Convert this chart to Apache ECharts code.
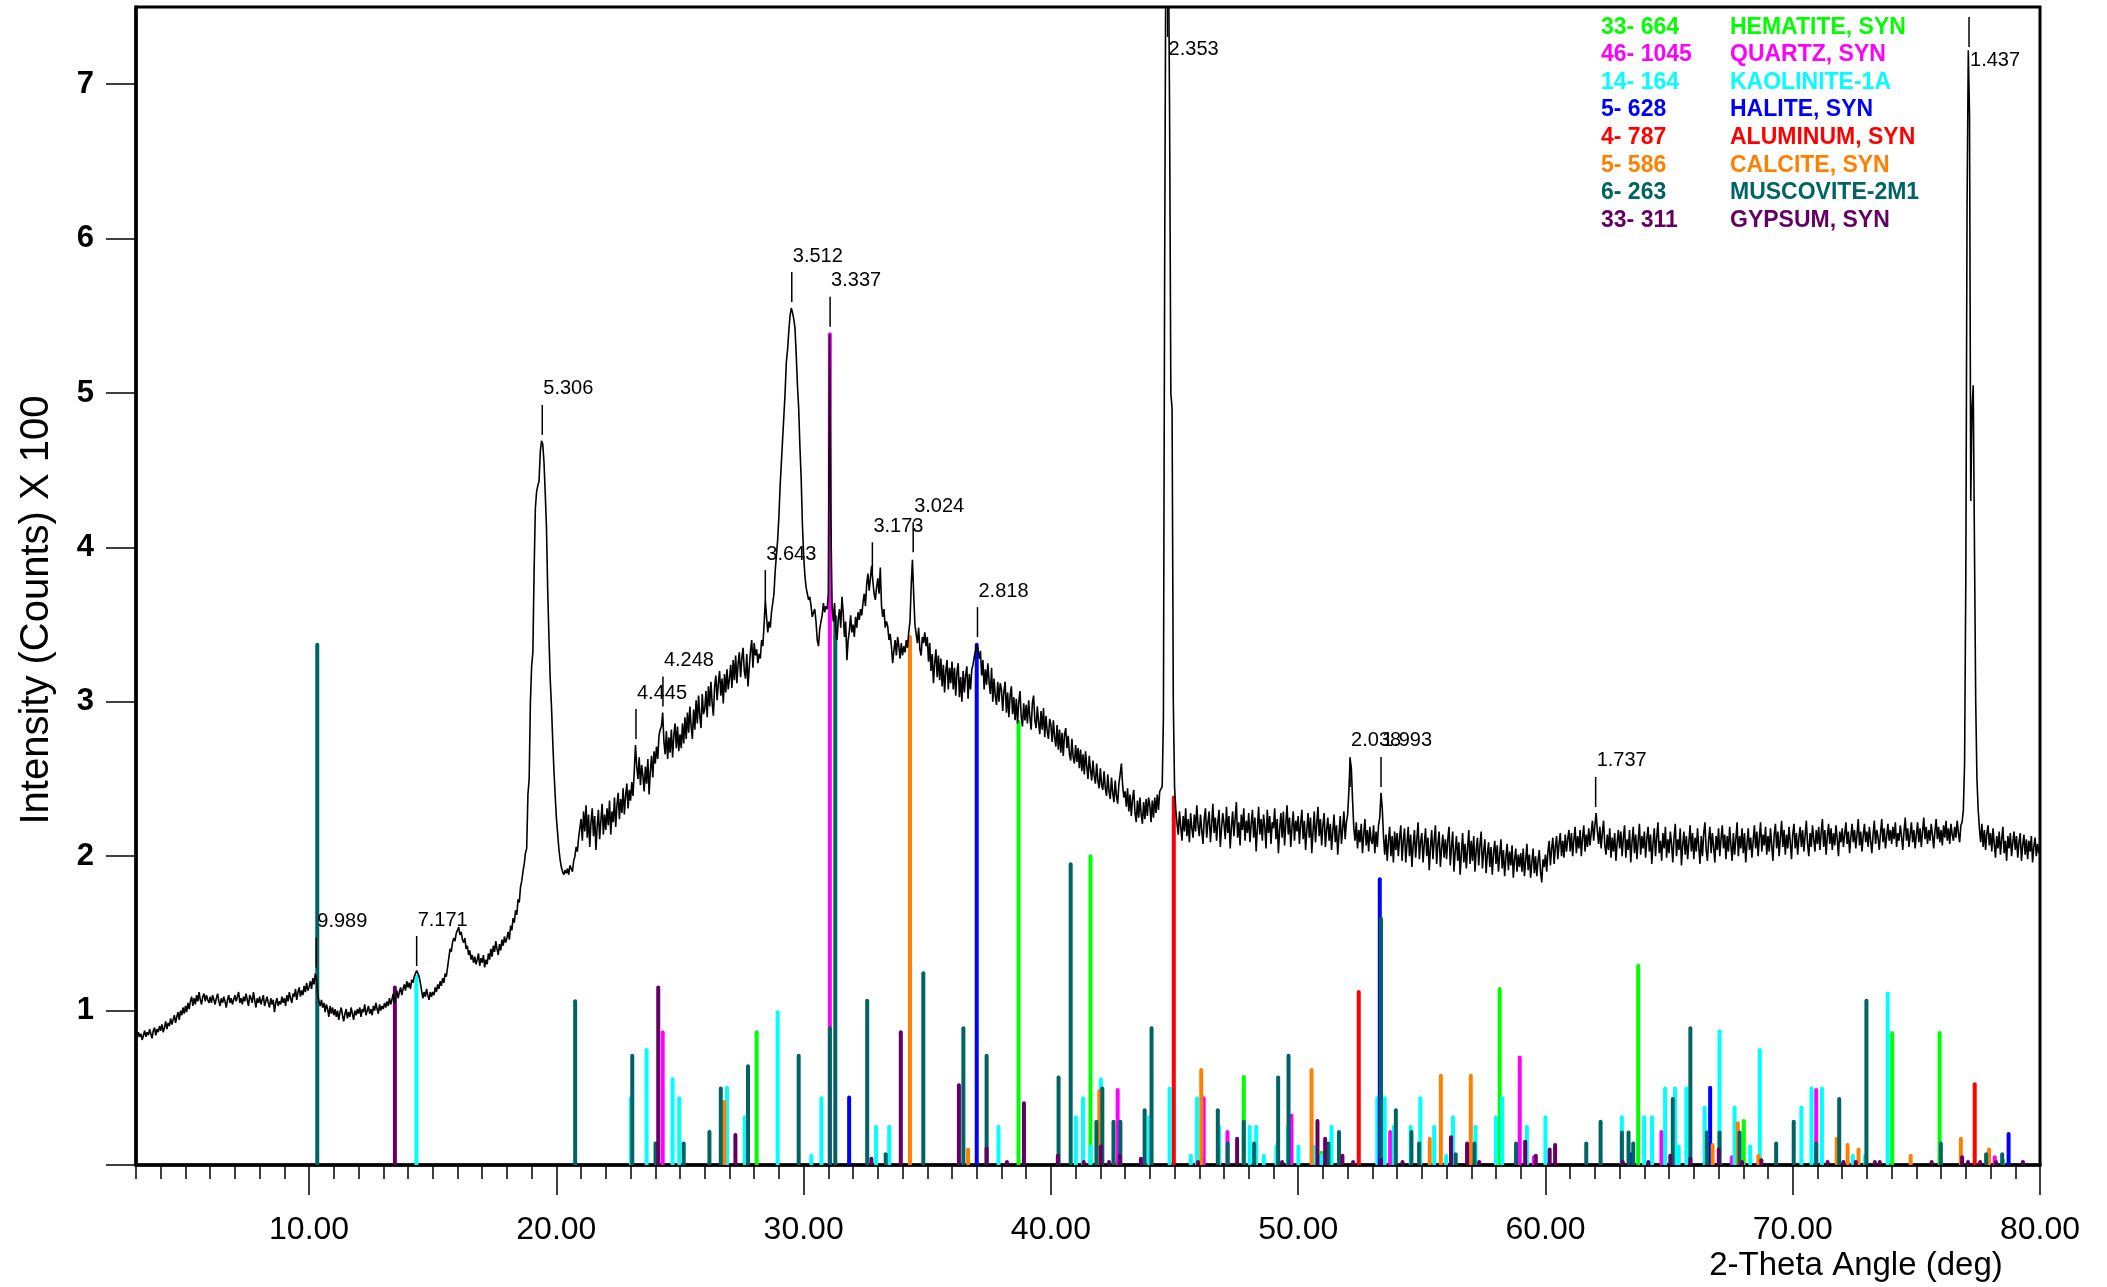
<!DOCTYPE html>
<html><head><meta charset="utf-8">
<script src="https://cdn.jsdelivr.net/npm/echarts@6/dist/echarts.min.js"></script>
<style>html,body{margin:0;padding:0;background:#fff;}#c{width:2107px;height:1287px;}</style>
</head><body><div id="c"></div>
<script>
// ---------------- DATA ----------------
const xMin = 3, xMax = 80, yMax = 7.5;
const xTickLabels = [10, 20, 30, 40, 50, 60, 70, 80];
const xMinorTicks = [3,4,5,6,7,8,9,10,11,12,13,14,15,16,17,18,19,20,21,22,23,24,25,26,27,28,29,30,31,32,33,34,35,36,37,38,39,40,41,42,43,44,45,46,47,48,49,50,51,52,53,54,55,56,57,58,59,60,61,62,63,64,65,66,67,68,69,70,71,72,73,74,75,76,77,78,79,80];
const yTickValues = [0, 1, 2, 3, 4, 5, 6, 7];
const yTickLabels = [1, 2, 3, 4, 5, 6, 7];

// measured pattern, intensity (counts x100), one row per degree starting at 3.00, step 0.05 deg
const scanStartDeg = 3, scanStep = 0.05;
const countsByDegree = [
[0.84,0.82,0.86,0.83,0.85,0.81,0.84,0.87,0.83,0.86,0.84,0.88,0.85,0.82,0.87,0.89,0.84,0.88,0.86,0.90],
[0.87,0.91,0.86,0.89,0.93,0.88,0.92,0.90,0.95,0.91,0.94,0.97,0.92,0.96,0.99,0.94,1.00,0.97,1.02,0.98],
[1.03,0.99,1.05,1.01,1.06,1.09,1.03,1.08,1.04,1.10,1.06,1.12,1.07,1.04,1.09,1.11,1.06,1.10,1.07,1.05],
[1.09,1.05,1.10,1.07,1.04,1.08,1.11,1.06,1.03,1.08,1.05,1.09,1.06,1.02,1.07,1.10,1.05,1.08,1.04,1.07],
[1.10,1.06,1.09,1.12,1.05,1.08,1.04,1.09,1.06,1.11,1.07,1.03,1.10,1.08,1.05,1.12,1.07,1.02,1.08,1.05],
[1.09,1.04,1.07,1.10,1.03,1.06,1.09,1.05,1.02,1.08,1.04,1.07,0.99,1.05,1.08,1.03,1.06,1.04,1.09,1.05],
[1.08,1.03,1.10,1.06,1.12,1.08,1.05,1.11,1.09,1.14,1.07,1.12,1.15,1.09,1.13,1.10,1.16,1.12,1.18,1.13],
[1.15,1.19,1.14,1.21,1.17,1.24,1.20,1.10,1.06,1.03,1.07,1.02,1.05,0.99,1.04,1.01,0.96,1.03,0.98,1.02],
[0.97,1.01,0.96,1.00,0.94,0.99,1.02,0.97,0.93,0.98,1.01,0.95,0.99,0.96,1.02,0.98,0.94,1.00,0.97,1.01],
[0.98,1.02,0.96,1.01,0.99,1.04,0.97,1.00,1.03,0.98,1.01,0.97,1.03,1.00,1.05,1.01,0.98,1.04,1.00,1.03],
[1.01,1.05,1.02,1.06,1.03,1.08,1.04,1.07,1.11,1.05,1.09,1.13,1.08,1.12,1.15,1.10,1.14,1.17,1.13,1.19],
[1.15,1.18,1.14,1.20,1.18,1.22,1.21,1.26,1.25,1.22,1.18,1.13,1.08,1.12,1.09,1.14,1.10,1.07,1.12,1.09],
[1.12,1.10,1.15,1.12,1.17,1.14,1.19,1.16,1.21,1.18,1.24,1.22,1.28,1.34,1.40,1.38,1.44,1.47,1.45,1.50],
[1.52,1.54,1.49,1.51,1.46,1.44,1.47,1.40,1.42,1.36,1.39,1.33,1.36,1.31,1.35,1.30,1.33,1.37,1.29,1.34],
[1.31,1.36,1.28,1.33,1.30,1.37,1.33,1.40,1.35,1.42,1.38,1.45,1.40,1.36,1.43,1.39,1.46,1.42,1.48,1.44],
[1.47,1.51,1.46,1.55,1.52,1.60,1.57,1.65,1.62,1.72,1.70,1.80,1.84,1.90,1.95,2.02,2.05,2.40,2.50,3.00],
[3.23,3.32,3.85,4.25,4.36,4.40,4.43,4.62,4.69,4.67,4.55,4.35,4.13,3.72,3.42,3.15,2.98,2.76,2.56,2.40],
[2.25,2.15,2.05,1.98,1.93,1.90,1.88,1.91,1.89,1.92,1.88,1.94,1.94,1.90,1.97,2.00,2.06,2.03,2.12,2.18],
[2.24,2.10,2.29,2.16,2.33,2.12,2.27,2.06,2.22,2.31,2.13,2.26,2.04,2.19,2.30,2.11,2.23,2.34,2.14,2.27],
[2.17,2.31,2.20,2.36,2.14,2.29,2.22,2.38,2.19,2.33,2.41,2.24,2.37,2.28,2.44,2.27,2.39,2.47,2.31,2.43],
[2.36,2.48,2.39,2.55,2.72,2.58,2.50,2.64,2.46,2.59,2.52,2.42,2.58,2.47,2.63,2.40,2.55,2.65,2.51,2.68],
[2.60,2.71,2.63,2.78,2.82,2.84,2.93,2.74,2.66,2.81,2.63,2.77,2.67,2.82,2.64,2.78,2.86,2.70,2.84,2.68],
[2.79,2.70,2.86,2.73,2.90,2.76,2.93,2.80,2.97,2.84,2.76,2.95,2.82,3.01,2.86,3.04,2.91,2.83,3.05,2.92],
[2.95,3.07,2.90,3.10,2.97,3.13,2.99,2.91,3.10,3.17,3.01,3.12,3.20,3.04,3.15,2.99,3.18,3.06,3.21,3.08],
[3.15,3.24,3.09,3.27,3.14,3.30,3.12,3.25,3.32,3.16,3.28,3.35,3.20,3.15,3.31,3.10,3.22,3.33,3.40,3.22],
[3.38,3.30,3.34,3.25,3.31,3.28,3.40,3.36,3.50,3.66,3.55,3.45,3.52,3.48,3.58,3.64,3.70,3.85,3.95,4.05],
[4.20,4.40,4.55,4.70,4.85,5.00,5.20,5.28,5.40,5.50,5.55,5.52,5.48,5.42,5.25,5.05,4.90,4.65,4.45,4.15],
[3.95,3.82,3.74,3.70,3.66,3.68,3.62,3.55,3.58,3.60,3.52,3.40,3.36,3.47,3.52,3.56,3.64,3.58,3.62,3.60],
[3.70,5.38,4.20,3.62,3.52,3.64,3.46,3.40,3.53,3.60,3.48,3.68,3.58,3.42,3.52,3.27,3.40,3.46,3.56,3.45],
[3.50,3.42,3.55,3.48,3.58,3.53,3.60,3.56,3.64,3.70,3.62,3.76,3.83,3.72,3.80,3.88,3.78,3.70,3.66,3.74],
[3.80,3.70,3.87,3.62,3.55,3.60,3.48,3.52,3.49,3.40,3.44,3.36,3.25,3.33,3.40,3.30,3.42,3.36,3.28,3.38],
[3.30,3.36,3.32,3.40,3.35,3.45,3.52,3.75,3.92,3.70,3.50,3.44,3.38,3.48,3.34,3.30,3.42,3.38,3.45,3.36],
[3.42,3.26,3.38,3.20,3.31,3.12,3.25,3.34,3.16,3.30,3.14,3.28,3.10,3.24,3.06,3.20,3.27,3.08,3.22,3.12],
[3.26,3.08,3.22,3.04,3.19,3.25,3.03,3.16,3.00,3.20,3.06,3.17,3.23,3.02,3.18,3.08,3.21,3.24,3.29,3.33],
[3.37,3.34,3.28,3.33,3.17,3.27,3.08,3.21,3.11,3.25,3.13,3.05,3.22,3.00,3.15,3.04,2.98,3.13,3.00,3.12],
[3.08,2.94,3.07,3.13,2.93,3.06,2.90,3.04,3.10,2.92,3.03,2.88,3.02,2.86,3.00,3.07,2.90,2.84,2.99,2.88],
[2.98,2.86,3.01,2.90,2.82,2.99,3.04,2.88,2.83,2.97,2.87,2.79,2.94,2.82,2.96,2.77,2.91,2.81,2.76,2.89],
[2.85,2.74,2.88,2.77,2.71,2.85,2.69,2.82,2.67,2.80,2.65,2.79,2.83,2.70,2.78,2.66,2.62,2.76,2.64,2.60],
[2.72,2.61,2.70,2.57,2.69,2.55,2.66,2.53,2.68,2.58,2.50,2.65,2.56,2.49,2.62,2.52,2.47,2.60,2.49,2.44],
[2.57,2.46,2.43,2.55,2.44,2.39,2.53,2.42,2.37,2.51,2.41,2.35,2.49,2.39,2.34,2.47,2.53,2.60,2.46,2.38],
[2.42,2.32,2.44,2.29,2.40,2.26,2.37,2.43,2.28,2.22,2.36,2.25,2.38,2.27,2.21,2.35,2.24,2.37,2.26,2.38],
[2.33,2.22,2.36,2.25,2.38,2.28,2.40,2.30,2.42,2.42,2.45,2.90,5.80,8.00,8.00,8.00,6.80,5.00,4.90,3.00],
[2.45,2.30,2.21,2.14,2.29,2.19,2.10,2.26,2.16,2.31,2.13,2.24,2.09,2.28,2.18,2.12,2.27,2.16,2.33,2.20],
[2.13,2.27,2.17,2.08,2.24,2.31,2.12,2.22,2.29,2.09,2.20,2.34,2.15,2.25,2.10,2.22,2.30,2.06,2.18,2.28],
[2.21,2.11,2.32,2.15,2.26,2.05,2.19,2.29,2.13,2.24,2.35,2.12,2.22,2.07,2.27,2.17,2.31,2.10,2.23,2.15],
[2.28,2.09,2.21,2.30,2.12,2.25,2.03,2.18,2.32,2.14,2.24,2.10,2.27,2.19,2.05,2.30,2.15,2.26,2.08,2.22],
[2.18,2.31,2.11,2.24,2.02,2.17,2.28,2.12,2.29,2.07,2.21,2.33,2.14,2.25,2.06,2.19,2.29,2.10,2.23,2.16],
[2.26,2.08,2.21,2.30,2.11,2.23,2.04,2.17,2.28,2.12,2.25,2.02,2.16,2.29,2.09,2.21,2.32,2.13,2.24,2.07],
[2.20,2.28,2.06,2.17,2.25,2.10,2.21,2.04,2.16,2.27,2.09,2.20,2.01,2.14,2.26,2.08,2.18,2.29,2.11,2.22],
[2.27,2.42,2.63,2.57,2.36,2.18,2.10,2.22,2.05,2.17,2.09,2.21,2.02,2.14,2.24,2.07,2.17,2.03,2.19,2.10],
[2.08,2.20,2.02,2.16,2.06,2.20,2.25,2.41,2.31,2.13,2.01,2.14,1.97,2.10,2.19,2.00,2.13,1.96,2.16,2.04],
[2.15,2.00,2.12,2.20,1.97,2.10,2.18,1.96,2.08,2.19,2.00,2.14,1.93,2.07,2.17,1.99,2.11,2.22,1.98,2.09],
[2.15,1.96,2.08,2.18,2.00,2.12,1.91,2.06,2.17,1.98,2.10,2.20,1.95,2.08,2.16,1.93,2.05,2.14,1.99,2.11],
[1.98,2.11,2.19,1.94,2.06,2.16,1.90,2.03,2.13,1.97,2.09,1.88,2.02,2.15,1.96,2.08,1.92,2.05,2.17,1.95],
[2.10,1.97,2.13,1.90,2.04,2.12,1.94,2.07,2.16,1.92,2.03,2.11,1.89,2.01,2.09,1.93,2.06,1.88,2.02,2.10],
[1.95,2.07,1.90,2.01,2.11,1.92,2.04,1.87,1.99,2.08,1.91,2.03,1.94,2.07,1.86,1.98,2.05,1.90,2.01,1.93],
[2.02,1.90,2.05,1.87,1.97,2.08,1.91,2.01,1.86,1.96,2.05,1.89,2.00,1.87,1.97,2.04,1.90,1.83,1.98,1.93],
[2.01,1.90,2.03,2.10,1.94,2.05,2.12,1.95,2.06,2.13,1.98,2.08,2.15,2.00,2.10,1.99,2.14,2.03,2.11,2.17],
[2.03,2.15,2.00,2.11,2.19,2.02,2.13,2.05,2.17,2.00,2.12,2.20,2.03,2.14,2.06,2.18,2.07,2.15,2.23,2.10],
[2.20,2.28,2.16,2.08,2.19,2.05,2.15,2.23,2.07,2.01,2.14,2.04,2.18,1.99,2.12,2.03,2.15,1.97,2.09,2.17],
[2.05,2.16,2.00,2.12,2.20,1.99,2.11,2.04,2.17,1.96,2.09,2.19,2.02,2.14,1.98,2.10,2.21,2.01,2.13,2.05],
[2.16,1.99,2.11,2.19,2.03,2.14,1.95,2.08,2.18,2.00,2.12,2.22,2.02,2.10,1.97,2.15,2.05,2.19,1.99,2.11],
[2.02,2.16,2.08,1.96,2.12,2.21,2.00,2.11,2.04,2.18,1.94,2.07,2.16,2.01,2.13,1.98,2.09,2.20,2.03,2.15],
[1.98,2.12,2.03,2.18,2.06,1.95,2.13,2.00,2.15,2.22,2.04,1.97,2.11,2.19,2.02,2.15,2.06,1.96,2.13,2.04],
[2.18,2.00,2.11,2.20,2.05,2.14,1.98,2.13,2.03,2.19,2.07,1.97,2.15,2.01,2.11,2.22,2.00,2.13,2.05,2.18],
[2.02,2.15,1.96,2.08,2.18,2.04,2.12,1.99,2.10,2.20,2.05,2.16,2.00,2.12,2.22,2.03,2.14,2.07,2.19,2.01],
[2.13,2.03,2.18,2.07,1.97,2.14,2.21,2.05,2.16,2.00,2.12,2.23,2.06,2.17,2.01,2.14,2.05,2.19,2.09,1.98],
[2.14,2.21,2.05,2.15,2.01,2.12,2.19,2.06,2.17,2.03,2.13,2.23,2.08,2.00,2.15,2.06,2.20,2.11,2.03,2.17],
[2.08,2.19,2.04,2.15,2.24,2.06,2.17,2.01,2.13,2.21,2.08,2.18,2.04,2.15,2.07,2.20,2.11,2.00,2.16,2.09],
[2.18,2.06,2.14,2.22,2.08,2.16,2.02,2.12,2.21,2.09,2.17,2.05,2.14,2.24,2.07,2.16,2.03,2.13,2.21,2.09],
[2.16,2.06,2.19,2.10,2.02,2.14,2.23,2.08,2.17,2.12,2.04,2.15,2.24,2.09,2.18,2.05,2.13,2.21,2.10,2.17],
[2.08,2.19,2.11,2.22,2.06,2.15,2.10,2.20,2.13,2.04,2.16,2.25,2.10,2.18,2.06,2.14,2.22,2.09,2.17,2.05],
[2.14,2.22,2.09,2.18,2.06,2.16,2.25,2.11,2.19,2.08,2.17,2.10,2.21,2.14,2.05,2.16,2.24,2.11,2.19,2.09],
[2.17,2.07,2.20,2.12,2.23,2.10,2.18,2.08,2.21,2.14,2.10,2.19,2.12,2.23,2.15,2.09,2.20,2.22,2.30,2.60],
[3.80,6.20,7.22,6.80,4.30,4.90,5.05,4.00,3.00,2.50,2.30,2.18,2.09,2.21,2.06,2.17,2.04,2.15,2.20,2.07],
[2.15,2.03,2.18,2.08,1.99,2.13,2.05,2.16,2.01,2.11,2.19,2.02,2.10,1.97,2.13,2.05,2.15,2.00,2.09,2.16],
[2.04,2.13,1.99,2.09,2.15,1.97,2.07,2.14,2.01,2.11,1.98,2.10,2.03,2.13,1.96,2.06,2.12,2.00,2.08,2.02]
];
const countAtEnd = 2.06; // value at 80.00

// reference patterns (2-theta, relative height in same units)
const phaseCodes  = ['33- 664','46- 1045','14- 164','5- 628','4- 787','5- 586','6- 263','33- 311'];
const phaseNames  = ['HEMATITE, SYN','QUARTZ, SYN','KAOLINITE-1A','HALITE, SYN','ALUMINUM, SYN','CALCITE, SYN','MUSCOVITE-2M1','GYPSUM, SYN'];
const hematiteSticks = [[28.10,0.86],[38.69,2.87],[41.60,2.00],[47.80,0.57],[50.95,0.08],[58.15,1.14],[63.75,1.29],[68.02,0.285],[74.02,0.855],[75.94,0.855],[78.50,0.03]];
const quartzSticks = [[24.30,0.86],[31.06,5.38],[42.70,0.485],[46.18,0.433],[47.14,0.214],[49.73,0.32],[53.72,0.214],[58.96,0.697],[59.53,0.05],[64.69,0.214],[67.54,0.05],[70.95,0.485],[78.17,0.05]];
const kaoliniteSticks = [[14.34,1.22],[23.02,0.433],[23.65,0.745],[24.70,0.556],[24.97,0.433],[26.90,0.50],[27.62,0.31],[28.95,0.99],[30.31,0.06],[30.72,0.433],[32.93,0.247],[33.46,0.247],[37.88,0.247],[41.01,0.31],[41.30,0.433],[41.60,0.12],[42.02,0.556],[43.97,0.31],[44.80,0.495],[45.66,0.06],[45.91,0.433],[46.80,0.247],[48.04,0.247],[48.30,0.247],[48.61,0.06],[49.12,0.12],[49.58,0.247],[50.01,0.12],[50.63,0.12],[50.93,0.06],[51.35,0.247],[53.20,0.433],[53.50,0.433],[53.87,0.247],[54.55,0.247],[54.94,0.433],[55.50,0.247],[55.98,0.06],[56.26,0.31],[57.17,0.247],[58.00,0.31],[58.25,0.433],[59.25,0.247],[60.00,0.31],[63.09,0.31],[63.99,0.31],[64.31,0.31],[64.84,0.495],[65.24,0.495],[65.39,0.12],[65.70,0.495],[66.44,0.372],[67.04,0.866],[67.65,0.372],[68.28,0.12],[68.67,0.745],[70.35,0.372],[70.76,0.495],[71.18,0.495],[72.43,0.06],[72.93,0.06],[73.84,1.11]];
const haliteSticks = [[31.84,0.437],[37.00,3.37],[53.30,1.85],[63.45,0.07],[66.66,0.50],[78.73,0.20]];
const aluminumSticks = [[44.97,2.38],[52.45,1.12],[77.36,0.523]];
const calciteSticks = [[26.79,0.41],[34.30,3.42],[36.65,0.10],[41.96,0.48],[46.08,0.615],[50.54,0.615],[55.32,0.17],[55.77,0.578],[56.98,0.578],[66.76,0.13],[67.78,0.27],[68.61,0.06],[71.78,0.17],[72.22,0.13],[72.66,0.10],[74.77,0.06],[76.80,0.17],[77.94,0.10]];
const muscoviteSticks = [[10.33,3.37],[20.76,1.06],[23.07,0.708],[24.01,0.14],[25.15,0.14],[26.19,0.214],[26.65,0.495],[27.75,0.64],[29.80,0.708],[31.06,0.885],[31.28,3.55],[32.57,1.063],[33.32,0.07],[34.84,1.242],[36.46,0.885],[37.40,0.708],[40.31,0.567],[40.80,1.948],[41.84,0.28],[42.08,0.495],[42.53,0.28],[42.81,0.28],[43.79,0.355],[44.07,0.885],[46.75,0.355],[47.15,0.14],[47.80,0.28],[48.22,0.14],[49.19,0.567],[49.61,0.708],[51.22,0.14],[51.65,0.214],[53.35,1.595],[53.95,0.355],[54.58,0.214],[54.89,0.14],[56.37,0.07],[57.13,0.14],[58.81,0.14],[61.65,0.14],[62.23,0.28],[63.09,0.21],[63.36,0.21],[63.55,0.14],[65.15,0.427],[65.86,0.885],[66.53,0.21],[67.04,0.21],[67.85,0.21],[69.33,0.14],[70.04,0.28],[70.95,0.14],[71.88,0.427],[72.98,1.063],[75.99,0.14],[77.82,0.07],[78.47,0.07]];
const gypsumSticks = [[13.47,1.15],[24.12,1.15],[27.24,0.195],[32.74,0.04],[33.93,0.86],[36.28,0.517],[37.40,0.107],[38.22,0.02],[38.91,0.40],[40.28,0.06],[41.33,0.02],[42.02,0.12],[42.35,0.02],[42.78,0.06],[43.64,0.04],[45.95,0.02],[47.53,0.17],[49.35,0.02],[50.78,0.285],[51.09,0.17],[51.79,0.06],[52.22,0.02],[53.35,0.03],[54.22,0.02],[56.18,0.18],[56.83,0.14],[57.32,0.02],[59.18,0.15],[59.61,0.06],[60.17,0.10],[60.39,0.13],[63.13,0.02],[64.16,0.02],[65.05,0.06],[65.86,0.04],[67.01,0.10],[67.95,0.02],[68.73,0.03],[71.41,0.02],[72.05,0.02],[72.55,0.02],[73.32,0.02],[73.52,0.02],[75.62,0.02],[76.85,0.05],[77.09,0.02],[77.58,0.02],[78.22,0.02],[79.31,0.02]];

// peak d-spacing labels (2-theta of marked peak, intensity level of the marker)
const dLabels = ['9.989','7.171','5.306','4.445','4.248','3.643','3.512','3.337','3.173','3.024','2.818','2.353','2.038','1.993','1.737','1.437'];
const dTwoTheta = [10.29,14.35,19.43,23.22,24.31,28.45,29.52,31.07,32.78,34.43,37.03,44.72,52.10,53.35,62.03,77.13];
const dPeakHeight = [1.24,1.25,4.69,2.72,2.93,3.62,5.55,5.39,3.80,3.93,3.38,8.00,2.41,2.41,2.28,7.22];

// ---------------- STYLE ----------------
const FONT = '"Liberation Sans", Arial, Helvetica, sans-serif';
const phaseColors = ['#00ff00','#ff00ff','#00ffff','#0000ff','#ff0000','#ff8000','#006464','#640064'];
const phaseSticks = [hematiteSticks, quartzSticks, kaoliniteSticks, haliteSticks, aluminumSticks, calciteSticks, muscoviteSticks, gypsumSticks];

const trace = [];
countsByDegree.forEach((row, k) => {
  row.forEach((v, j) => trace.push([+(scanStartDeg + k + j * scanStep).toFixed(2), v]));
});
trace.push([xMax, countAtEnd]);

function stickRenderer(color) {
  return function (params, api) {
    const x = api.value(0), h = api.value(1);
    const a = api.coord([x, 0]), b = api.coord([x, h]);
    return { type: 'line', shape: { x1: a[0], y1: a[1] - 1, x2: b[0], y2: b[1] },
      style: { stroke: color, lineWidth: 4, lineCap: 'round' } };
  };
}

const series = [];
phaseSticks.forEach((arr, i) => {
  series.push({ type: 'custom', name: phaseNames[i], data: arr, renderItem: stickRenderer(phaseColors[i]),
    encode: { x: 0, y: 1 }, z: 3, silent: true, clip: true });
});
series.push({ type: 'line', data: trace, showSymbol: false, symbol: 'none', clip: true, z: 5,
  lineStyle: { color: '#000', width: 1.6 }, silent: true });
series.push({ type: 'custom', data: dTwoTheta.map((x, i) => [x, dPeakHeight[i]]), z: 6, silent: true, clip: false,
  encode: { x: 0, y: 1 },
  renderItem: function (params, api) {
    const i = params.dataIndex;
    const x = api.value(0), v = api.value(1);
    const top = params.coordSys.y;
    const p = api.coord([x, Math.min(v, yMax)]);
    let yB, yT, ty, va;
    if (v >= yMax) { yT = top; yB = top + 30; ty = top + 32; va = 'top'; }
    else {
      yB = p[1] - 6; yT = yB - 30;
      if (yT - 24 < top) {
        if (yT < top + 10) { yT = top + 10; yB = yT + 30; }
        ty = yB + 3; va = 'top';
      } else { ty = yT - 6; va = 'bottom'; }
    }
    return { type: 'group', children: [
      { type: 'line', shape: { x1: p[0], y1: yT, x2: p[0], y2: yB }, style: { stroke: '#000', lineWidth: 1.5 } },
      { type: 'text', x: p[0] + 1, y: ty, style: { text: dLabels[i], fill: '#000', fontSize: 20, fontFamily: FONT, align: 'left', verticalAlign: va } }
    ] };
  }
});

const graphics = [];
phaseCodes.forEach((c, i) => {
  const y = 27.3 + i * 27.6;
  graphics.push({ type: 'text', x: 1601, y: y, z: 10, style: { text: c, fill: phaseColors[i], fontSize: 23, fontWeight: 'bold', fontFamily: FONT, align: 'left', verticalAlign: 'middle' } });
  graphics.push({ type: 'text', x: 1730, y: y, z: 10, style: { text: phaseNames[i], fill: phaseColors[i], fontSize: 23, fontWeight: 'bold', fontFamily: FONT, align: 'left', verticalAlign: 'middle' } });
});
graphics.push({ type: 'text', x: 1856, y: 1266, style: { text: '2-Theta Angle (deg)', fill: '#000', fontSize: 33, fontFamily: FONT, align: 'center', verticalAlign: 'middle' } });
graphics.push({ type: 'text', x: 37, y: 610, rotation: Math.PI / 2, style: { text: 'Intensity (Counts) X 100', fill: '#000', fontSize: 40, fontFamily: FONT, align: 'center', verticalAlign: 'middle' } });

const chart = echarts.init(document.getElementById('c'), null, { renderer: 'canvas', width: 2107, height: 1287 });
chart.setOption({
  animation: false,
  backgroundColor: '#fff',
  grid: { left: 136, right: 67, top: 7, bottom: 122, show: true, borderColor: '#000', borderWidth: 3, backgroundColor: 'transparent', containLabel: false },
  xAxis: [{
    type: 'value', min: xMin, max: xMax, interval: 1, position: 'bottom',
    axisLine: { show: true, onZero: false, lineStyle: { color: '#000', width: 3.5 } },
    axisTick: { show: true, length: 14, customValues: xMinorTicks, lineStyle: { color: '#000', width: 1.5 } },
    axisLabel: { show: true, customValues: xTickLabels, formatter: v => Number(v).toFixed(2), margin: 49, fontSize: 32, fontFamily: FONT, color: '#000' },
    splitLine: { show: false }
  }, {
    type: 'value', min: xMin, max: xMax, position: 'bottom', gridIndex: 0,
    axisLine: { show: false },
    axisTick: { show: true, length: 30, customValues: xTickLabels, lineStyle: { color: '#000', width: 1.5 } },
    axisLabel: { show: false }, splitLine: { show: false }
  }],
  yAxis: {
    type: 'value', min: 0, max: yMax,
    axisLine: { show: true, onZero: false, lineStyle: { color: '#000', width: 3.5 } },
    axisTick: { show: true, length: 30, customValues: yTickValues, lineStyle: { color: '#000', width: 1.5 } },
    axisLabel: { show: true, customValues: yTickLabels, margin: 42, fontSize: 31, fontWeight: 'bold', fontFamily: FONT, color: '#000' },
    splitLine: { show: false }
  },
  series: series,
  graphic: graphics
});
</script></body></html>
